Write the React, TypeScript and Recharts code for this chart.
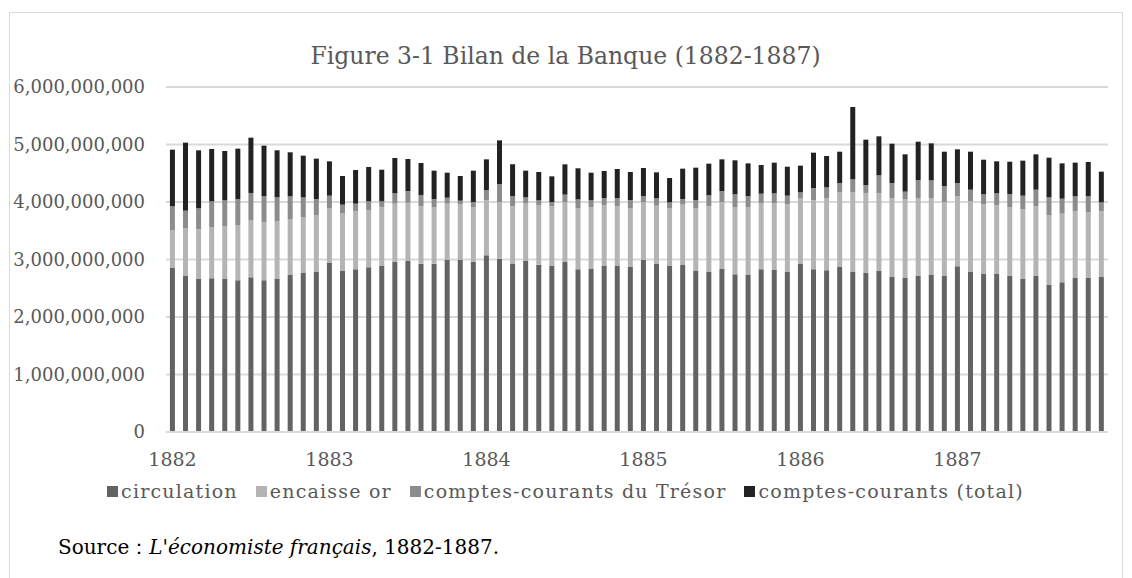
import { BarChart, Bar, XAxis, YAxis, CartesianGrid, Legend } from 'recharts'

// Banque de France balance sheet, monthly 1882-1887, in millions of francs
const years = ['1882', '1883', '1884', '1885', '1886', '1887']

const circulation = [
  2852, 2713, 2661, 2672, 2661, 2638, 2690, 2638, 2661, 2730, 2765, 2783,
  2939, 2800, 2829, 2864, 2887, 2957, 2974, 2928, 2928, 2991, 2991, 2957,
  3072, 3014, 2922, 2974, 2910, 2887, 2957, 2829, 2835, 2887, 2887, 2870,
  2991, 2922, 2887, 2904, 2800, 2783, 2835, 2742, 2730, 2829, 2817, 2783,
  2922, 2829, 2812, 2870, 2783, 2765, 2800, 2696, 2678, 2713, 2730, 2713,
  2881, 2783, 2748, 2748, 2713, 2661, 2713, 2557, 2603, 2678, 2678, 2696
]

const encaisseOr = [
  655, 835, 864, 893, 922, 962, 991, 1008, 1009, 974, 974, 985,
  957, 1009, 1014, 997, 1020, 1014, 1014, 997, 985, 980, 974, 956,
  957, 986, 1003, 1009, 1032, 1038, 1043, 1067, 1078, 1055, 1038, 1026,
  1009, 1014, 1009, 1050, 1096, 1142, 1165, 1171, 1183, 1154, 1166, 1182,
  1148, 1200, 1258, 1298, 1385, 1392, 1357, 1374, 1374, 1357, 1340, 1287,
  1218, 1234, 1217, 1194, 1194, 1217, 1212, 1211, 1194, 1160, 1148, 1142
]

const tresor = [
  418, 301, 365, 447, 446, 452, 476, 453, 411, 395, 342, 284,
  214, 145, 128, 151, 105, 180, 203, 197, 139, 104, 58, 87,
  180, 313, 174, 98, 87, 75, 128, 150, 116, 128, 145, 139,
  104, 128, 98, 98, 139, 191, 191, 220, 191, 162, 168, 145,
  98, 214, 185, 162, 226, 139, 307, 260, 128, 313, 307, 278,
  231, 197, 168, 209, 232, 232, 289, 313, 261, 261, 273, 156
]

const comptesCourants = [
  985, 1183, 1009, 910, 858, 876, 962, 881, 818, 765, 725, 702,
  597, 498, 586, 597, 550, 614, 557, 556, 493, 435, 429, 545,
  533, 759, 556, 464, 493, 446, 527, 540, 481, 469, 504, 487,
  487, 452, 423, 528, 562, 551, 551, 592, 568, 498, 533, 504,
  464, 615, 545, 545, 1258, 788, 678, 684, 649, 666, 643, 597,
  586, 661, 603, 556, 562, 609, 615, 690, 614, 585, 597, 534
]

const yTicks = [0, 1e9, 2e9, 3e9, 4e9, 5e9, 6e9]

const series = [
  { key: 'circulation', name: 'circulation', color: '#636363' },
  { key: 'encaisse', name: 'encaisse or', color: '#b4b4b4' },
  { key: 'tresor', name: 'comptes-courants du Trésor', color: '#8c8c8c' },
  { key: 'courants', name: 'comptes-courants (total)', color: '#222222' }
]

const data = circulation.map((c, i) => ({
  month: years[Math.floor(i / 12)] + '-' + String((i % 12) + 1).padStart(2, '0'),
  circulation: c * 1e6,
  encaisse: encaisseOr[i] * 1e6,
  tresor: tresor[i] * 1e6,
  courants: comptesCourants[i] * 1e6
}))

const serif = '"DejaVu Serif", serif'

function LegendRow () {
  return (
    <div style={{ display: 'flex', justifyContent: 'center', gap: 18, fontFamily: serif, fontSize: 19, letterSpacing: 1.2, color: '#595959' }}>
      {series.map(s => (
        <span key={s.key} style={{ display: 'flex', alignItems: 'center' }}>
          <span style={{ width: 11, height: 11, background: s.color, marginRight: 3, display: 'inline-block' }} />
          {s.name}
        </span>
      ))}
    </div>
  )
}

export default function App () {
  return (
    <div style={{ position: 'absolute', left: 0, top: 0, width: 1132, height: 578, overflow: 'hidden', background: '#fff' }}>
      <div style={{ position: 'absolute', left: 9, top: 12, width: 1112, height: 600, border: '1.5px solid #d9d9d9' }} />
      <div style={{ position: 'absolute', left: 9, width: 1113, top: 42, textAlign: 'center', fontFamily: serif, fontSize: 23.5, color: '#595959' }}>
        Figure 3-1 Bilan de la Banque (1882-1887)
      </div>
      <div style={{ position: 'absolute', left: 0, top: 0 }}>
        <BarChart width={1132} height={578} data={data} barCategoryGap="30%"
          margin={{ top: 87, right: 24, bottom: 116, left: 0 }}>
          <CartesianGrid vertical={false} stroke="#d9d9d9" strokeWidth={2} />
          <XAxis dataKey="month" interval={0} tickLine={false} tickSize={0} tickMargin={21} height={30}
            axisLine={{ stroke: '#d9d9d9', strokeWidth: 2 }}
            tickFormatter={(v: string) => v.endsWith('-01') ? v.slice(0, 4) : ''}
            tick={{ fill: '#595959', fontSize: 19, fontFamily: serif }} />
          <YAxis domain={[0, 6e9]} ticks={yTicks} width={166} axisLine={false} tickLine={false} tickSize={0} tickMargin={21}
            tickFormatter={(v: number) => v.toLocaleString('en-US')}
            tick={{ fill: '#595959', fontSize: 18, fontFamily: serif }} />
          <Legend verticalAlign="middle" align="center" content={<LegendRow />}
            wrapperStyle={{ position: 'absolute', top: 480, left: 9, width: 1113 }} />
          {series.map(s => (
            <Bar key={s.key} dataKey={s.key} name={s.name} stackId="a" fill={s.color} isAnimationActive={false} />
          ))}
        </BarChart>
      </div>
      <div style={{ position: 'absolute', left: 58, top: 534, fontFamily: serif, fontSize: 20, color: '#000' }}>
        Source：<i>L'économiste français</i>, 1882-1887.
      </div>
    </div>
  )
}
